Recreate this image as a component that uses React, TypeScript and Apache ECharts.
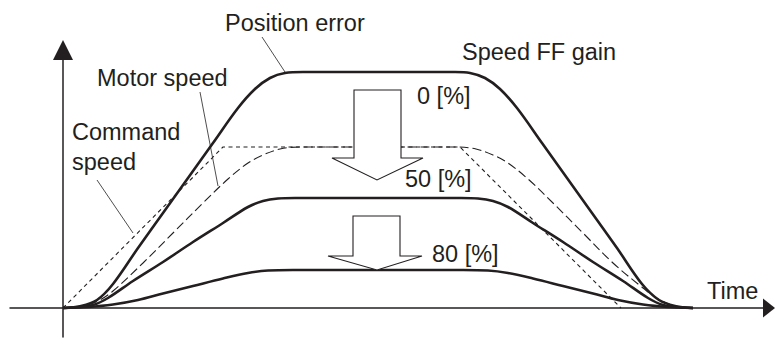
import React, { useEffect, useRef } from "react";
import * as echarts from "echarts";

const INK = "#231f20";
const FONT = '"Liberation Sans", Arial, Helvetica, sans-serif';

// Position error, speed FF gain 0 [%]
const err0T = [0, 18, 34, 50, 75, 100, 125, 150, 175, 192, 207, 222, 240, 392, 407, 422, 437, 454, 479, 504, 529, 554, 579, 596, 612, 630];
const err0V = [0, 2, 8, 24, 60, 95, 130, 165, 200, 219, 230, 235, 236, 236, 235, 230, 219, 200, 165, 130, 95, 60, 24, 8, 2, 0];
// Position error, speed FF gain 50 [%]
const err50T = [0, 15, 30, 45, 70, 100, 130, 160, 185, 200, 215, 232, 398, 415, 430, 445, 470, 500, 530, 560, 585, 600, 615, 630];
const err50V = [0, 1, 3, 10, 27, 46, 66, 85, 101, 107, 109.5, 110, 110, 109.5, 107, 101, 85, 66, 46, 27, 10, 3, 1, 0];
// Position error, speed FF gain 80 [%]
const err80T = [0, 25, 50, 75, 100, 130, 160, 185, 205, 230, 400, 425, 445, 470, 500, 530, 555, 580, 605, 630];
const err80V = [0, 1, 3.5, 8, 14.5, 22, 29.5, 35, 37.5, 38, 38, 37.5, 35, 29.5, 22, 14.5, 8, 3.5, 1, 0];
// Motor speed
const motorT = [0, 20, 35, 50, 80, 110, 140, 165, 185, 200, 217, 237, 393, 413, 430, 445, 465, 490, 520, 550, 580, 595, 612, 630];
const motorV = [0, 2, 7, 17, 45, 75, 105, 129, 145, 153, 159, 161, 161, 159, 153, 145, 129, 105, 75, 45, 20, 9, 2, 0];
// Command speed
const cmdT = [0, 160, 397, 558];
const cmdV = [0, 161, 161, 0];

// Annotation texts
const labelTexts = ["Position error", "Speed FF gain", "Motor speed", "Command", "speed", "0 [%]", "50 [%]", "80 [%]", "Time"];

const zip = (t: number[], v: number[]) => t.map((x, i) => [x, v[i]]);

export default function App() {
  const ref = useRef<HTMLDivElement>(null);
  useEffect(() => {
    if (!ref.current) return;
    const chart = echarts.init(ref.current, null, { renderer: "svg" });
    const thick = { color: INK, width: 2.6 };
    const curve = (name: string, t: number[], v: number[], lineStyle: any, z: number) => ({
      name,
      type: "line",
      data: zip(t, v),
      showSymbol: false,
      smooth: 0.35,
      lineStyle,
      z,
    });
    const option: any = {
      animation: false,
      backgroundColor: "#ffffff",
      grid: { left: 10, right: 12, top: 60, bottom: 1 },
      xAxis: {
        type: "value",
        min: -53,
        max: 700,
        axisLine: {
          onZero: true,
          lineStyle: { color: INK, width: 1.5 },
          symbol: ["none", "triangle"],
          symbolSize: [19, 12],
          symbolOffset: [0, 6],
        },
        axisTick: { show: false },
        axisLabel: { show: false },
        splitLine: { show: false },
      },
      yAxis: {
        type: "value",
        min: -29,
        max: 248,
        axisLine: {
          onZero: true,
          lineStyle: { color: INK, width: 1.5 },
          symbol: ["none", "triangle"],
          symbolSize: [20, 20],
          symbolOffset: [0, 10],
        },
        axisTick: { show: false },
        axisLabel: { show: false },
        splitLine: { show: false },
      },
      series: [
        {
          name: "Command speed",
          type: "line",
          data: zip(cmdT, cmdV),
          showSymbol: false,
          lineStyle: { color: INK, width: 1.1, type: [4, 3.5] },
          z: 3,
        },
        curve("Motor speed", motorT, motorV, { color: INK, width: 1.1, type: [9, 4] }, 3),
        curve("0 [%]", err0T, err0V, thick, 4),
        curve("50 [%]", err50T, err50V, thick, 4),
        curve("80 [%]", err80T, err80V, thick, 4),
      ],
    };
    chart.setOption(option);

    const px = (t: number, v: number) => chart.convertToPixel({ gridIndex: 0 }, [t, v]) as number[];

    // annotation anchors, in chart units [time, value]
    const labelAnchors = [
      [162, 277], [399, 248], [34, 222], [9, 168], [9, 138], [354, 204], [342, 121], [369, 46], [644, 9],
    ];
    const leaderLines = [
      [[199, 271], [222, 236]],
      [[137, 216], [155, 122]],
      [[34, 128], [70, 75]],
    ];
    const arrows = [
      [[291, 218], [338, 218], [338, 150], [360, 150], [314, 128], [269, 150], [291, 150]],
      [[290, 92], [337, 92], [337, 52], [359, 52], [314, 38], [265, 52], [290, 52]],
    ];
    const fs = 23.5;
    const graphic: any[] = [];
    arrows.forEach((pts) => {
      graphic.push({
        type: "polygon",
        z: 100,
        shape: { points: pts.map((p) => px(p[0], p[1])) },
        style: { fill: "#ffffff", stroke: INK, lineWidth: 1.1 },
      });
    });
    leaderLines.forEach((l) => {
      const a = px(l[0][0], l[0][1]);
      const b = px(l[1][0], l[1][1]);
      graphic.push({
        type: "line",
        z: 100,
        shape: { x1: a[0], y1: a[1], x2: b[0], y2: b[1] },
        style: { stroke: INK, lineWidth: 0.8 },
      });
    });
    labelTexts.forEach((txt, i) => {
      const p = px(labelAnchors[i][0], labelAnchors[i][1]);
      graphic.push({
        type: "text",
        z: 110,
        x: p[0],
        y: p[1] - fs * 0.3465,
        style: {
          text: txt,
          fill: INK,
          fontSize: fs,
          fontFamily: FONT,
          align: "left",
          verticalAlign: "middle",
        },
      });
    });
    chart.setOption({ graphic });

    return () => chart.dispose();
  }, []);
  return (
    <div
      ref={ref}
      style={{ position: "absolute", left: 0, top: 0, width: 775, height: 338, background: "#fff" }}
    />
  );
}
